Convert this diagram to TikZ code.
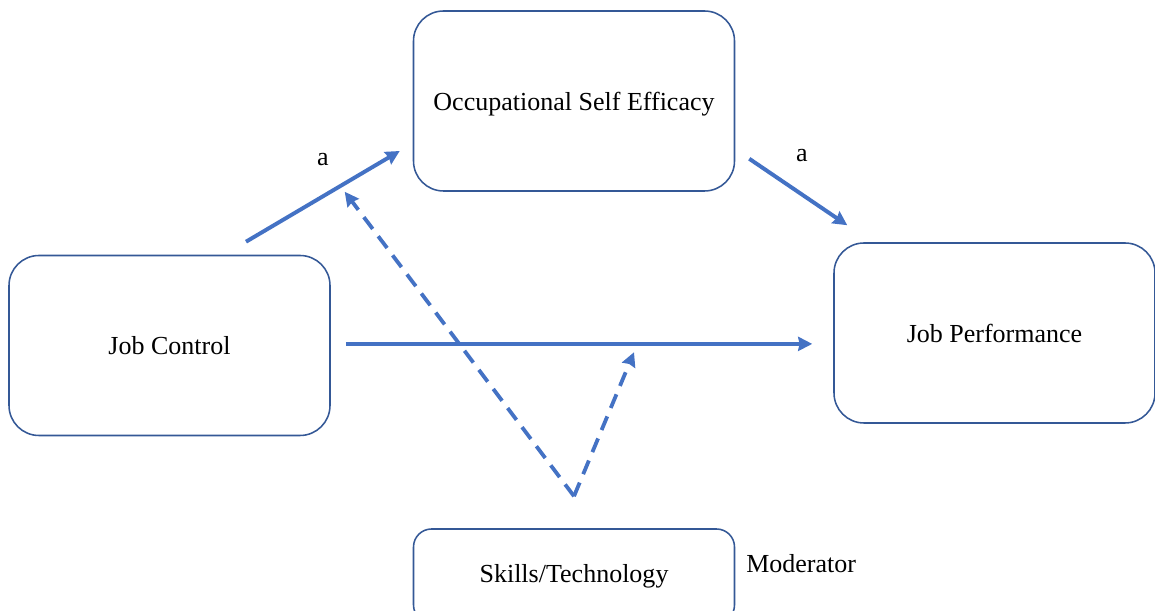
\documentclass[tikz,border=0pt]{standalone}
\usepackage{fontspec}
\setmainfont{Liberation Serif}
\usetikzlibrary{arrows.meta}
\tikzset{>={Stealth[length=10pt,width=10pt,inset=1pt]}}
\definecolor{boxblue}{RGB}{52,88,150}
\definecolor{arrowblue}{RGB}{68,114,196}

\begin{document}
\begin{tikzpicture}[
	box/.style = {% variable boxes
		draw=boxblue, line width=1.1pt, rounded corners=0.75cm,
		minimum width=8.025cm, minimum height=4.5cm, inner sep=0pt,
		font=\fontsize{18.5}{22}\selectfont,},
	lbl/.style = {% free labels
		inner sep=0pt, font=\fontsize{18.5}{22}\selectfont,},
	effect/.style = {% solid paths
		->, draw=arrowblue, line width=2.8pt,},
	modpath/.style = {% moderation paths
		->, draw=arrowblue, line width=2.7pt, dash pattern=on 10.5pt off 6.5pt,},
	]
	\useasboundingbox (0,0) rectangle (28.875,15.275);

	% variables
	\node[box] (jc) at (4.2375,6.6375) {Job Control};
	\node[box, text depth=0pt] (ose) at (14.35,12.75) {Occupational Self Efficacy};
	\node[box] (jp) at (24.8625,6.95) {Job Performance};
	\node[box, minimum height=2.35cm, rounded corners=0.45cm] (sk) at (14.35,0.875) {Skills/Technology};
	\node[lbl, anchor=west] (mod) at (18.65,1.175) {Moderator};

	% paths
	\draw[effect] ([xshift=1.9125cm,yshift=0.325cm]jc.north) -- ([xshift=-0.325cm,yshift=-1.25cm]ose.west)
		node[lbl, midway, yshift=0.91cm] (a1) {a};
	\draw[effect] ([xshift=0.35cm,yshift=0.825cm]ose.south east) -- ([xshift=0.35cm,yshift=0.425cm]jp.north west)
		node[lbl, midway, xshift=0.09cm, yshift=0.92cm] (a2) {a};
	\draw[effect] ([xshift=0.375cm,yshift=0.04cm]jc.east) -- ([xshift=-0.525cm,yshift=0.04cm]jc.east -| jp.west);

	% moderation
	\coordinate (v) at ([yshift=0.8cm]sk.north);
	\draw[modpath] (v) -- ([xshift=-1.7cm]ose.south west);
	\draw[modpath] (v) -- ([xshift=1.5cm,yshift=3.6cm]v);

\end{tikzpicture}
\end{document}
